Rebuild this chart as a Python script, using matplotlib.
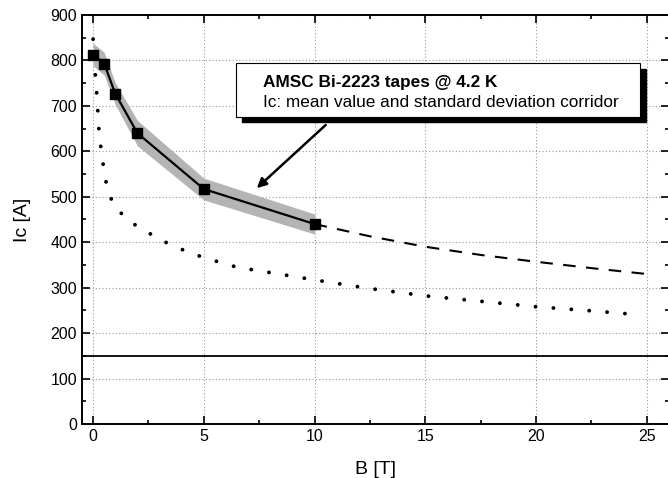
import matplotlib
matplotlib.use("Agg")
import matplotlib.pyplot as plt
from matplotlib.patches import Rectangle
import numpy as np

plt.rcParams['font.family'] = ['Liberation Sans', 'DejaVu Sans']

# measured mean Ic and std corridor
B_meas = [0, 0.5, 1, 2, 5, 10]
Ic_meas = [813, 793, 727, 640, 517, 440]
Ic_std = [25, 25, 24, 28, 24, 22]

# extrapolation (dashed)
B_ext = [10, 12.5, 15, 17.5, 20, 22.5, 25]
Ic_ext = [440, 413, 390, 372, 357, 343, 330]

# dotted curve
B_dot = [0, 0.09, 0.18, 0.27, 0.4, 0.5, 0.65, 0.95, 1.6, 2.35, 3.05, 3.85, 5, 6.5, 8.4, 10, 12.5, 15, 17.5, 20, 22.5, 24.5]
Ic_dot = [847, 775, 715, 640, 590, 555, 515, 480, 447, 425, 405, 387, 366, 345, 330, 317, 298, 282, 270, 258, 249, 241]

h_line = 150

fig = plt.figure(figsize=(6.68, 4.78), dpi=100)
ax = fig.add_axes([0.1228, 0.113, 0.8787, 0.8556])

lo = np.array(Ic_meas) - np.array(Ic_std)
hi = np.array(Ic_meas) + np.array(Ic_std)
ax.fill_between(B_meas, lo, hi, color='#b4b4b4', lw=0, zorder=2)
ax.plot(B_meas, Ic_meas, color='black', lw=1.6, marker='s', ms=6.5, zorder=4)
ax.plot(B_ext, Ic_ext, color='black', lw=1.5, linestyle=(0, (6, 5)), zorder=3)
ax.plot(B_dot, Ic_dot, color='black', lw=2.8, linestyle=(0, (0.01, 4.6)),
        dash_capstyle='round', zorder=3)
ax.axhline(h_line, color='black', lw=1.3, zorder=3)

ax.set_xlim(-0.5, 26)
ax.set_ylim(0, 900)
ax.set_xticks(np.arange(0, 26, 5))
ax.set_xticks(np.arange(0, 26, 2.5), minor=True)
ax.set_yticks(np.arange(0, 901, 100))
ax.set_yticks(np.arange(0, 901, 50), minor=True)
ax.tick_params(which='both', direction='in', top=True, right=True, width=1.2, labelsize=11.5)
ax.tick_params(which='major', length=6)
ax.tick_params(which='minor', length=3)
ax.grid(True, which='major', color='#999999', linestyle=(0, (1, 2)), lw=0.8)
for s in ax.spines.values():
    s.set_linewidth(1.4)

ax.set_xlabel('B [T]', fontsize=14, labelpad=12)
ax.set_ylabel('Ic [A]', fontsize=14, labelpad=14)

# text box with shadow
x0, x1, y0, y1 = 6.45, 24.7, 676, 794
dx, dy = 0.25, -12
ax.add_patch(Rectangle((x0 + dx, y0 + dy), x1 - x0, y1 - y0, facecolor='black',
                       edgecolor='black', zorder=5))
ax.add_patch(Rectangle((x0, y0), x1 - x0, y1 - y0, facecolor='white',
                       edgecolor='black', lw=0.8, zorder=6))
ax.text(x0 + 1.2, 752, 'AMSC Bi-2223 tapes @ 4.2 K', fontsize=12.4, fontweight='bold',
        va='center', ha='left', zorder=7)
ax.text(x0 + 1.2, 708, 'Ic: mean value and standard deviation corridor', fontsize=12.4,
        va='center', ha='left', zorder=7)

ax.annotate('', xy=(7.39, 519), xytext=(10.5, 658),
            arrowprops=dict(arrowstyle='-|>', color='black', lw=1.8,
                            mutation_scale=14, shrinkA=0, shrinkB=0), zorder=7)

fig.savefig('out.png', dpi=100)
